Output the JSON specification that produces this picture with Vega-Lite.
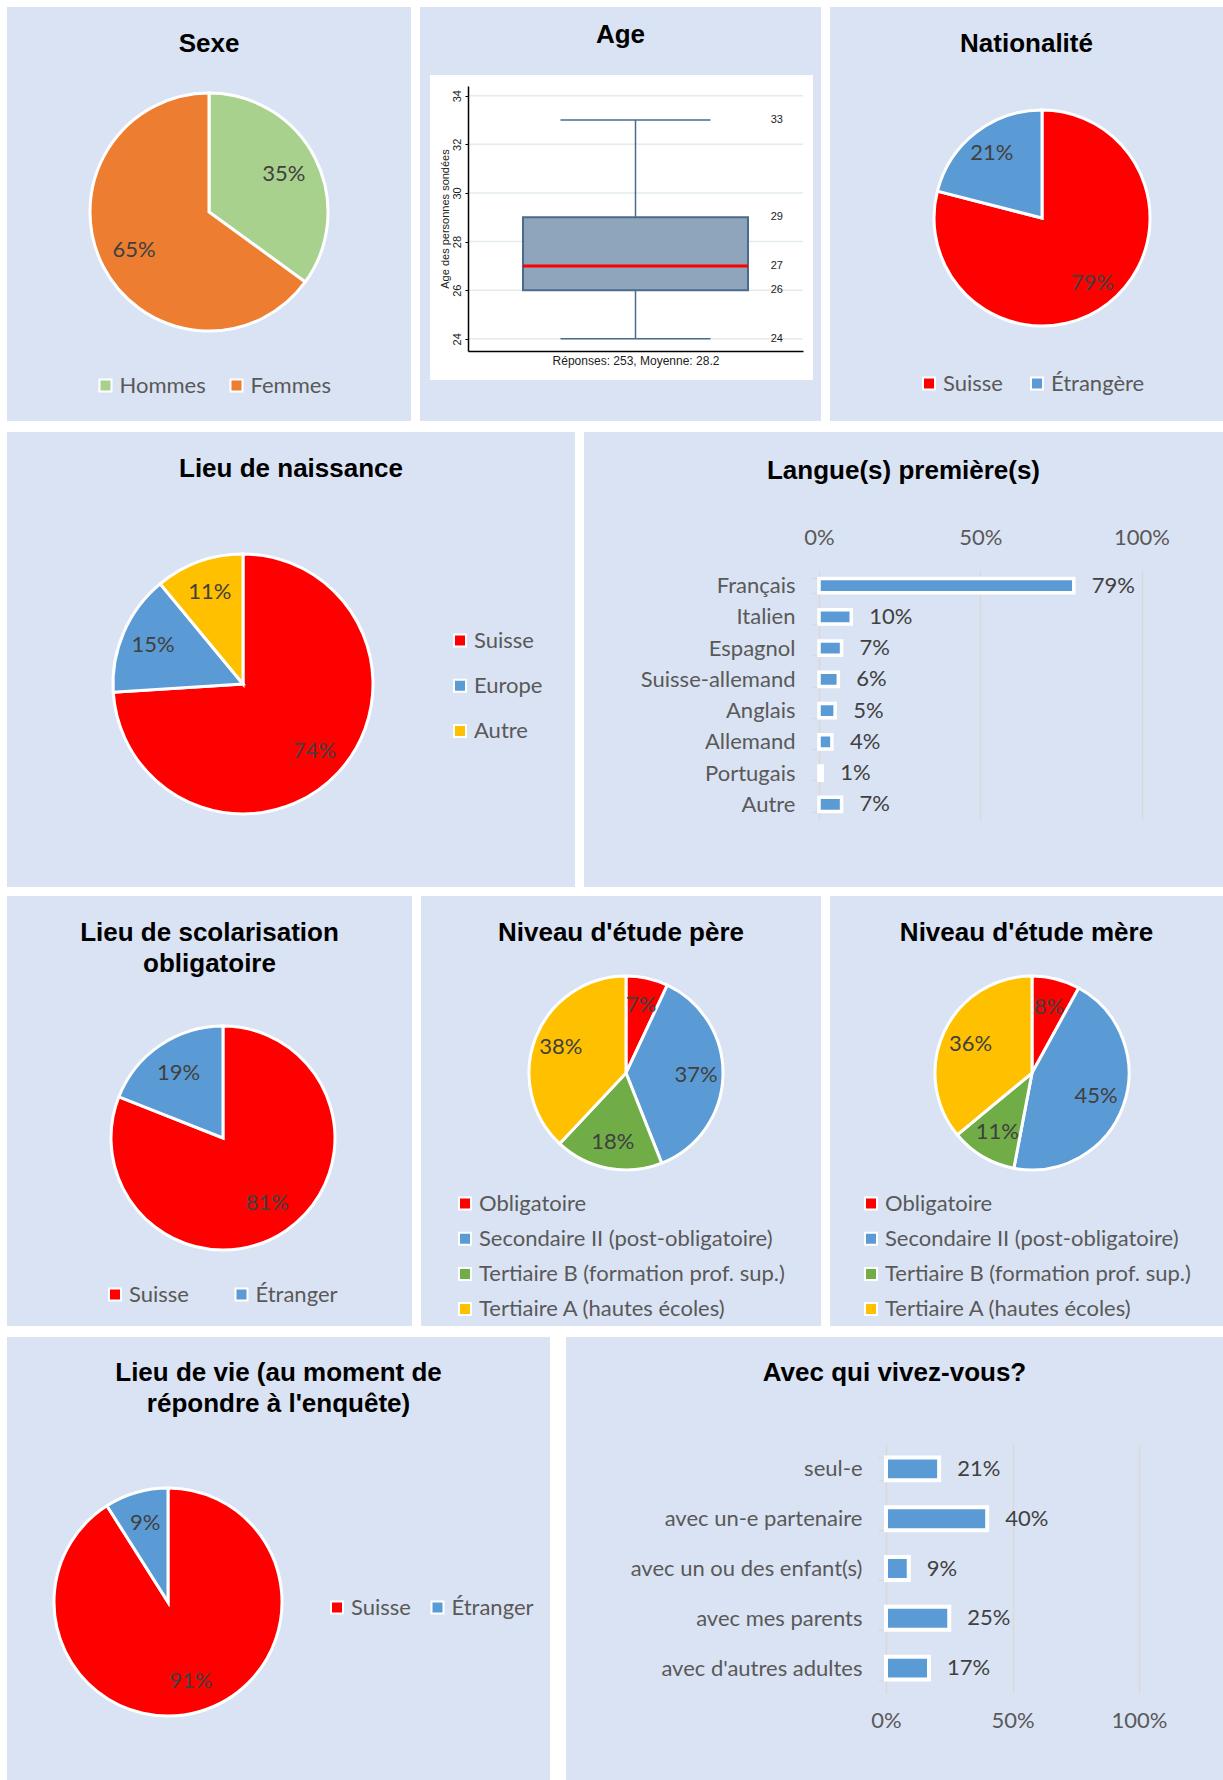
{
  "$schema": "https://vega.github.io/schema/vega-lite/v6.json",
  "padding": {"left": 7, "top": 7, "right": 0, "bottom": 0},
  "background": "white",
  "config": {
    "view": {"fill": "#dae3f3", "stroke": null},
    "font": "Lato",
    "title": {"font": "Liberation Sans", "fontSize": 26, "fontWeight": "bold", "color": "#000000", "anchor": "middle", "frame": "group", "offset": -49.5, "lineHeight": 31},
    "legend": {"symbolType": "square", "symbolSize": 144, "symbolStrokeColor": "white", "symbolStrokeWidth": 2, "labelFont": "Lato", "labelFontSize": 22, "labelColor": "#595959", "labelOffset": 3, "labelLimit": 0, "padding": 0, "symbolOpacity": 1}
  },
  "datasets": {
    "sexe": [{"cat": "Hommes", "pct": 0.35, "ord": 1}, {"cat": "Femmes", "pct": 0.65, "ord": 2}],
    "nat": [{"cat": "Suisse", "pct": 0.79, "ord": 1}, {"cat": "Étrangère", "pct": 0.21, "ord": 2}],
    "naiss": [{"cat": "Suisse", "pct": 0.74, "ord": 1}, {"cat": "Europe", "pct": 0.15, "ord": 2}, {"cat": "Autre", "pct": 0.11, "ord": 3}],
    "scol": [{"cat": "Suisse", "pct": 0.81, "ord": 1}, {"cat": "Étranger", "pct": 0.19, "ord": 2}],
    "pere": [{"cat": "Obligatoire", "pct": 0.07, "ord": 1}, {"cat": "Secondaire II (post-obligatoire)", "pct": 0.37, "ord": 2}, {"cat": "Tertiaire B (formation prof. sup.)", "pct": 0.18, "ord": 3}, {"cat": "Tertiaire A (hautes écoles)", "pct": 0.38, "ord": 4}],
    "mere": [{"cat": "Obligatoire", "pct": 0.08, "ord": 1}, {"cat": "Secondaire II (post-obligatoire)", "pct": 0.45, "ord": 2}, {"cat": "Tertiaire B (formation prof. sup.)", "pct": 0.11, "ord": 3}, {"cat": "Tertiaire A (hautes écoles)", "pct": 0.36, "ord": 4}],
    "vie": [{"cat": "Suisse", "pct": 0.91, "ord": 1}, {"cat": "Étranger", "pct": 0.09, "ord": 2}],
    "langue": [{"lang": "Français", "pct": 0.79}, {"lang": "Italien", "pct": 0.10}, {"lang": "Espagnol", "pct": 0.07}, {"lang": "Suisse-allemand", "pct": 0.06}, {"lang": "Anglais", "pct": 0.05}, {"lang": "Allemand", "pct": 0.04}, {"lang": "Portugais", "pct": 0.01}, {"lang": "Autre", "pct": 0.07}],
    "avec": [{"qui": "seul-e", "pct": 0.21}, {"qui": "avec un-e partenaire", "pct": 0.40}, {"qui": "avec un ou des enfant(s)", "pct": 0.09}, {"qui": "avec mes parents", "pct": 0.25}, {"qui": "avec d'autres adultes", "pct": 0.17}],
    "age": [{"min": 24, "q1": 26, "median": 27, "q3": 29, "max": 33}],
    "ageTicks": [{"v": 24}, {"v": 26}, {"v": 28}, {"v": 30}, {"v": 32}, {"v": 34}]
  },
  "resolve": {"scale": {"color": "independent", "theta": "independent"}, "legend": {"color": "independent"}},
  "spacing": 9,
  "vconcat": [
    {
      "spacing": 0,
      "resolve": {"scale": {"color": "independent", "theta": "independent"}, "legend": {"color": "independent"}},
      "vconcat": [
        {
          "spacing": 9,
          "bounds": "flush",
          "resolve": {"scale": {"color": "independent", "theta": "independent"}, "legend": {"color": "independent"}},
          "hconcat": [
            {
              "width": 404, "height": 414,
              "title": {"text": "Sexe"},
              "data": {"name": "sexe"},
              "encoding": {
                "theta": {"field": "pct", "type": "quantitative", "stack": true},
                "order": {"field": "ord", "type": "quantitative"},
                "x": {"datum": 0.5, "type": "quantitative", "scale": {"domain": [0, 1], "nice": false, "zero": false}, "axis": null},
                "y": {"datum": 0.4952, "type": "quantitative", "scale": {"domain": [0, 1], "reverse": true, "nice": false, "zero": false}, "axis": null}
              },
              "layer": [
                {"mark": {"type": "arc", "outerRadius": 119, "stroke": "white", "strokeWidth": 3},
                 "encoding": {"color": {"field": "cat", "type": "nominal", "scale": {"domain": ["Hommes", "Femmes"], "range": ["#a9d18e", "#ed7d31"]}, "legend": {"title": null, "orient": "none", "direction": "horizontal", "legendX": 87.5, "legendY": 367.5, "columnPadding": 19}}}},
                {"mark": {"type": "text", "radius": 84, "font": "Lato", "fontSize": 22, "color": "#404040"},
                 "encoding": {"text": {"field": "pct", "type": "quantitative", "format": ".0%"}, "detail": {"field": "cat", "type": "nominal"}}}
              ]
            },
            {
              "width": 401, "height": 414,
              "title": {"text": "Age", "offset": -40.5},
              "layer": [
                {"data": {"name": "age"}, "mark": {"type": "rect", "fill": "white"},
                 "encoding": {
                   "x": {"datum": -0.1134, "type": "quantitative", "scale": {"domain": [0, 1], "range": [48, 383], "nice": false, "zero": false},
                         "axis": {"orient": "bottom", "offset": -70, "labels": false, "ticks": false, "grid": false, "domain": true, "domainColor": "#000000", "domainWidth": 1.5, "title": "Réponses: 253, Moyenne: 28.2", "titleFont": "Liberation Sans", "titleFontSize": 12, "titleFontWeight": "normal", "titleColor": "#222222", "titlePadding": 4, "zindex": 1}},
                   "x2": {"datum": 1.0299},
                   "y": {"datum": 34.85, "type": "quantitative", "scale": {"domain": [23.5, 34.4], "range": [344, 79], "nice": false, "zero": false},
                         "axis": {"orient": "left", "offset": -48, "values": [24, 26, 28, 30, 32, 34], "grid": false, "domainColor": "#000000", "domainWidth": 1.5, "tickColor": "#000000", "tickSize": 3, "labelAngle": -90, "labelFont": "Liberation Sans", "labelFontSize": 11, "labelColor": "#222222", "labelPadding": 3, "labelOverlap": false, "title": "Age des personnes sondées", "titleFont": "Liberation Sans", "titleFontSize": 11, "titleFontWeight": "normal", "titleColor": "#222222", "titlePadding": 1, "zindex": 1}},
                   "y2": {"datum": 22.31}
                 }},
                {"data": {"name": "ageTicks"}, "mark": {"type": "rule", "stroke": "#e3ecec", "strokeWidth": 1.5},
                 "encoding": {"y": {"field": "v", "type": "quantitative"}, "x": {"datum": 0, "type": "quantitative"}, "x2": {"datum": 1}}},
                {"data": {"name": "age"}, "mark": {"type": "rule", "stroke": "#4a6b8c", "strokeWidth": 1.5},
                 "encoding": {"x": {"datum": 0.5, "type": "quantitative"}, "y": {"field": "min", "type": "quantitative"}, "y2": {"field": "max"}}},
                {"data": {"name": "age"}, "mark": {"type": "rule", "stroke": "#4a6b8c", "strokeWidth": 1.5},
                 "encoding": {"x": {"datum": 0.2761, "type": "quantitative"}, "x2": {"datum": 0.7239}, "y": {"field": "min", "type": "quantitative"}}},
                {"data": {"name": "age"}, "mark": {"type": "rule", "stroke": "#4a6b8c", "strokeWidth": 1.5},
                 "encoding": {"x": {"datum": 0.2761, "type": "quantitative"}, "x2": {"datum": 0.7239}, "y": {"field": "max", "type": "quantitative"}}},
                {"data": {"name": "age"}, "mark": {"type": "rect", "fill": "#8ea5bb", "stroke": "#4a6b8c", "strokeWidth": 2},
                 "encoding": {"x": {"datum": 0.1642, "type": "quantitative"}, "x2": {"datum": 0.8358}, "y": {"field": "q1", "type": "quantitative"}, "y2": {"field": "q3"}}},
                {"data": {"name": "age"}, "mark": {"type": "rule", "stroke": "#ff0000", "strokeWidth": 3},
                 "encoding": {"x": {"datum": 0.1642, "type": "quantitative"}, "x2": {"datum": 0.8358}, "y": {"field": "median", "type": "quantitative"}}},
                {"data": {"name": "age"}, "transform": [{"fold": ["min", "q1", "median", "q3", "max"], "as": ["stat", "val"]}],
                 "mark": {"type": "text", "font": "Liberation Sans", "fontSize": 11, "color": "#222222"},
                 "encoding": {"x": {"datum": 0.922, "type": "quantitative"}, "y": {"field": "val", "type": "quantitative"}, "text": {"field": "val", "type": "quantitative"}}}
              ]
            },
            {
              "width": 393, "height": 414,
              "title": {"text": "Nationalité"},
              "data": {"name": "nat"},
              "encoding": {
                "theta": {"field": "pct", "type": "quantitative", "stack": true},
                "order": {"field": "ord", "type": "quantitative"},
                "x": {"datum": 0.5395, "type": "quantitative", "scale": {"domain": [0, 1], "nice": false, "zero": false}, "axis": null},
                "y": {"datum": 0.5097, "type": "quantitative", "scale": {"domain": [0, 1], "reverse": true, "nice": false, "zero": false}, "axis": null}
              },
              "layer": [
                {"mark": {"type": "arc", "outerRadius": 108, "stroke": "white", "strokeWidth": 3},
                 "encoding": {"color": {"field": "cat", "type": "nominal", "scale": {"domain": ["Suisse", "Étrangère"], "range": ["#ff0000", "#5b9bd5"]}, "legend": {"title": null, "orient": "none", "direction": "horizontal", "legendX": 88, "legendY": 365.5, "columnPadding": 23}}}},
                {"mark": {"type": "text", "radius": 82, "font": "Lato", "fontSize": 22, "color": "#404040"},
                 "encoding": {"text": {"field": "pct", "type": "quantitative", "format": ".0%"}, "detail": {"field": "cat", "type": "nominal"}}}
              ]
            }
          ]
        },
        {
          "spacing": 9,
          "bounds": "flush",
          "resolve": {"scale": {"color": "independent", "theta": "independent"}, "legend": {"color": "independent"}},
          "hconcat": [
            {
              "width": 568, "height": 455,
              "title": {"text": "Lieu de naissance"},
              "data": {"name": "naiss"},
              "encoding": {
                "theta": {"field": "pct", "type": "quantitative", "stack": true},
                "order": {"field": "ord", "type": "quantitative"},
                "x": {"datum": 0.4155, "type": "quantitative", "scale": {"domain": [0, 1], "nice": false, "zero": false}, "axis": null},
                "y": {"datum": 0.5538, "type": "quantitative", "scale": {"domain": [0, 1], "reverse": true, "nice": false, "zero": false}, "axis": null}
              },
              "layer": [
                {"mark": {"type": "arc", "outerRadius": 130, "stroke": "white", "strokeWidth": 3},
                 "encoding": {"color": {"field": "cat", "type": "nominal", "scale": {"domain": ["Suisse", "Europe", "Autre"], "range": ["#ff0000", "#5b9bd5", "#ffc000"]}, "legend": {"title": null, "orient": "none", "direction": "vertical", "legendX": 442, "legendY": 197.5, "rowPadding": 23.3}}}},
                {"mark": {"type": "text", "radius": 98, "font": "Lato", "fontSize": 22, "color": "#404040"},
                 "encoding": {"text": {"field": "pct", "type": "quantitative", "format": ".0%"}, "detail": {"field": "cat", "type": "nominal"}}}
              ]
            },
            {
              "width": 639, "height": 455,
              "title": {"text": "Langue(s) première(s)", "offset": -62.5},
              "data": {"name": "langue"},
              "encoding": {
                "y": {"field": "lang", "type": "nominal", "sort": null, "scale": {"range": [138, 388], "paddingInner": 0.54, "paddingOuter": 0.27},
                      "axis": {"orient": "left", "offset": -235, "title": null, "grid": false, "domainColor": "#d9d9d9", "domainWidth": 1.5, "tickColor": "#d9d9d9", "tickWidth": 1.5, "tickSize": 8, "tickBand": "extent", "labelPadding": 16, "labelLimit": 0, "labelFont": "Lato", "labelFontSize": 22, "labelColor": "#595959"}},
                "x": {"field": "pct", "type": "quantitative", "scale": {"domain": [0, 1], "range": [235, 557.5], "nice": false},
                      "axis": {"orient": "top", "offset": -117, "values": [0, 0.5, 1], "format": ".0%", "domain": false, "ticks": false, "labelPadding": 0, "labelFlush": false, "labelOverlap": false, "grid": true, "gridColor": "#d9d9d9", "gridWidth": 1.5, "labelFont": "Lato", "labelFontSize": 22, "labelColor": "#595959", "title": null}}
              },
              "layer": [
                {"mark": {"type": "bar", "fill": "#5b9bd5", "stroke": "white", "strokeWidth": 3.5}},
                {"mark": {"type": "text", "align": "left", "baseline": "middle", "dx": 18, "font": "Lato", "fontSize": 22, "color": "#404040"},
                 "encoding": {"text": {"field": "pct", "type": "quantitative", "format": ".0%"}}}
              ]
            }
          ]
        }
      ]
    },
    {
      "spacing": 0,
      "resolve": {"scale": {"color": "independent", "theta": "independent"}, "legend": {"color": "independent"}},
      "vconcat": [
        {
          "spacing": 9,
          "bounds": "flush",
          "resolve": {"scale": {"color": "independent", "theta": "independent"}, "legend": {"color": "independent"}},
          "hconcat": [
            {
              "width": 405, "height": 430,
              "title": {"text": ["Lieu de scolarisation", "obligatoire"], "offset": -80.5},
              "data": {"name": "scol"},
              "encoding": {
                "theta": {"field": "pct", "type": "quantitative", "stack": true},
                "order": {"field": "ord", "type": "quantitative"},
                "x": {"datum": 0.5333, "type": "quantitative", "scale": {"domain": [0, 1], "nice": false, "zero": false}, "axis": null},
                "y": {"datum": 0.5628, "type": "quantitative", "scale": {"domain": [0, 1], "reverse": true, "nice": false, "zero": false}, "axis": null}
              },
              "layer": [
                {"mark": {"type": "arc", "outerRadius": 112, "stroke": "white", "strokeWidth": 3},
                 "encoding": {"color": {"field": "cat", "type": "nominal", "scale": {"domain": ["Suisse", "Étranger"], "range": ["#ff0000", "#5b9bd5"]}, "legend": {"title": null, "orient": "none", "direction": "horizontal", "legendX": 97, "legendY": 387.5, "columnPadding": 41.5}}}},
                {"mark": {"type": "text", "radius": 79, "font": "Lato", "fontSize": 22, "color": "#404040"},
                 "encoding": {"text": {"field": "pct", "type": "quantitative", "format": ".0%"}, "detail": {"field": "cat", "type": "nominal"}}}
              ]
            },
            {
              "width": 400, "height": 430,
              "title": {"text": "Niveau d'étude père"},
              "data": {"name": "pere"},
              "encoding": {
                "theta": {"field": "pct", "type": "quantitative", "stack": true},
                "order": {"field": "ord", "type": "quantitative"},
                "x": {"datum": 0.5125, "type": "quantitative", "scale": {"domain": [0, 1], "nice": false, "zero": false}, "axis": null},
                "y": {"datum": 0.4116, "type": "quantitative", "scale": {"domain": [0, 1], "reverse": true, "nice": false, "zero": false}, "axis": null}
              },
              "layer": [
                {"mark": {"type": "arc", "outerRadius": 97, "stroke": "white", "strokeWidth": 3},
                 "encoding": {"color": {"field": "cat", "type": "nominal", "scale": {"domain": ["Obligatoire", "Secondaire II (post-obligatoire)", "Tertiaire B (formation prof. sup.)", "Tertiaire A (hautes écoles)"], "range": ["#ff0000", "#5b9bd5", "#70ad47", "#ffc000"]}, "legend": {"title": null, "orient": "none", "direction": "vertical", "legendX": 33, "legendY": 296.5, "rowPadding": 13.2}}}},
                {"mark": {"type": "text", "radius": 70, "font": "Lato", "fontSize": 22, "color": "#404040"},
                 "encoding": {"text": {"field": "pct", "type": "quantitative", "format": ".0%"}, "detail": {"field": "cat", "type": "nominal"}}}
              ]
            },
            {
              "width": 393, "height": 430,
              "title": {"text": "Niveau d'étude mère"},
              "data": {"name": "mere"},
              "encoding": {
                "theta": {"field": "pct", "type": "quantitative", "stack": true},
                "order": {"field": "ord", "type": "quantitative"},
                "x": {"datum": 0.5140, "type": "quantitative", "scale": {"domain": [0, 1], "nice": false, "zero": false}, "axis": null},
                "y": {"datum": 0.4116, "type": "quantitative", "scale": {"domain": [0, 1], "reverse": true, "nice": false, "zero": false}, "axis": null}
              },
              "layer": [
                {"mark": {"type": "arc", "outerRadius": 97, "stroke": "white", "strokeWidth": 3},
                 "encoding": {"color": {"field": "cat", "type": "nominal", "scale": {"domain": ["Obligatoire", "Secondaire II (post-obligatoire)", "Tertiaire B (formation prof. sup.)", "Tertiaire A (hautes écoles)"], "range": ["#ff0000", "#5b9bd5", "#70ad47", "#ffc000"]}, "legend": {"title": null, "orient": "none", "direction": "vertical", "legendX": 30, "legendY": 296.5, "rowPadding": 13.2}}}},
                {"mark": {"type": "text", "radius": 68, "font": "Lato", "fontSize": 22, "color": "#404040"},
                 "encoding": {"text": {"field": "pct", "type": "quantitative", "format": ".0%"}, "detail": {"field": "cat", "type": "nominal"}}}
              ]
            }
          ]
        },
        {
          "spacing": 16,
          "bounds": "flush",
          "resolve": {"scale": {"color": "independent", "theta": "independent"}, "legend": {"color": "independent"}},
          "hconcat": [
            {
              "width": 543, "height": 443,
              "title": {"text": ["Lieu de vie (au moment de", "répondre à l'enquête)"], "offset": -79.5},
              "data": {"name": "vie"},
              "encoding": {
                "theta": {"field": "pct", "type": "quantitative", "stack": true},
                "order": {"field": "ord", "type": "quantitative"},
                "x": {"datum": 0.2965, "type": "quantitative", "scale": {"domain": [0, 1], "nice": false, "zero": false}, "axis": null},
                "y": {"datum": 0.5982, "type": "quantitative", "scale": {"domain": [0, 1], "reverse": true, "nice": false, "zero": false}, "axis": null}
              },
              "layer": [
                {"mark": {"type": "arc", "outerRadius": 114, "stroke": "white", "strokeWidth": 3},
                 "encoding": {"color": {"field": "cat", "type": "nominal", "scale": {"domain": ["Suisse", "Étranger"], "range": ["#ff0000", "#5b9bd5"]}, "legend": {"title": null, "orient": "none", "direction": "horizontal", "legendX": 319, "legendY": 259.5, "columnPadding": 15.5}}}},
                {"mark": {"type": "text", "radius": 82, "font": "Lato", "fontSize": 22, "color": "#404040"},
                 "encoding": {"text": {"field": "pct", "type": "quantitative", "format": ".0%"}, "detail": {"field": "cat", "type": "nominal"}}}
              ]
            },
            {
              "width": 657, "height": 443,
              "title": {"text": "Avec qui vivez-vous?", "offset": -59.5},
              "data": {"name": "avec"},
              "encoding": {
                "y": {"field": "qui", "type": "nominal", "sort": null, "scale": {"range": [107, 356], "paddingInner": 0.54, "paddingOuter": 0.27},
                      "axis": {"orient": "left", "offset": -320, "title": null, "grid": false, "domainColor": "#d9d9d9", "domainWidth": 1.5, "tickColor": "#d9d9d9", "tickWidth": 1.5, "tickSize": 8, "tickBand": "extent", "labelPadding": 16, "labelLimit": 0, "labelFont": "Lato", "labelFontSize": 22, "labelColor": "#595959"}},
                "x": {"field": "pct", "type": "quantitative", "scale": {"domain": [0, 1], "range": [320, 573], "nice": false},
                      "axis": {"orient": "top", "offset": -395, "values": [0, 0.5, 1], "format": ".0%", "domain": false, "ticks": false, "labelPadding": 0, "labelFlush": false, "labelOverlap": false, "grid": true, "gridColor": "#d9d9d9", "gridWidth": 1.5, "labelFont": "Lato", "labelFontSize": 22, "labelColor": "#595959", "title": null}}
              },
              "layer": [
                {"mark": {"type": "bar", "fill": "#5b9bd5", "stroke": "white", "strokeWidth": 4}},
                {"mark": {"type": "text", "align": "left", "baseline": "middle", "dx": 18, "font": "Lato", "fontSize": 22, "color": "#404040"},
                 "encoding": {"text": {"field": "pct", "type": "quantitative", "format": ".0%"}}}
              ]
            }
          ]
        }
      ]
    }
  ]
}
